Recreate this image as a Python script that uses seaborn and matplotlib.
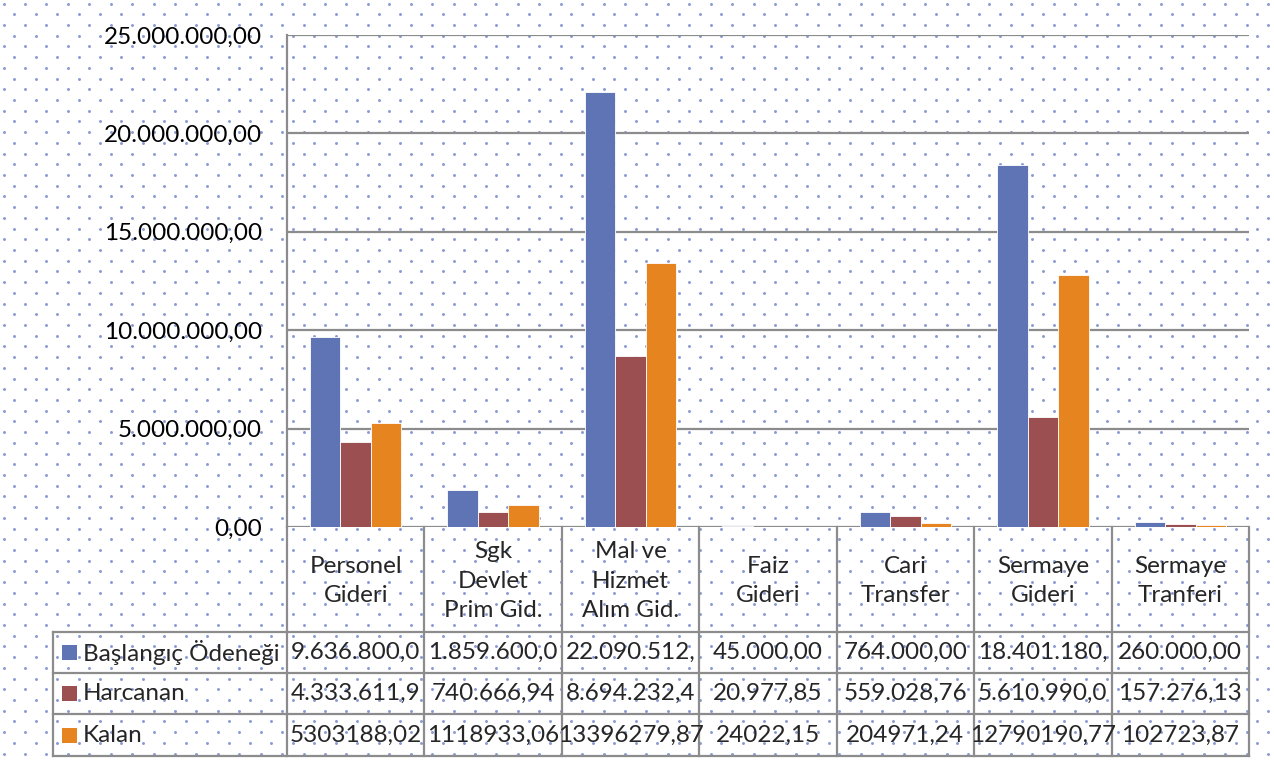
import matplotlib
matplotlib.use("Agg")
import matplotlib.pyplot as plt
import numpy as np
import pandas as pd
import seaborn as sns
from matplotlib.patches import Rectangle

# data (Turkish number format in the table)
categories = ["Personel\nGideri", "Sgk\nDevlet\nPrim Gid.", "Mal ve\nHizmet\nAlım Gid.",
              "Faiz\nGideri", "Cari\nTransfer", "Sermaye\nGideri", "Sermaye\nTranferi"]
series = ["Başlangıç Ödeneği", "Harcanan", "Kalan"]
baslangic = [9636800.00, 1859600.00, 22090512.29, 45000.00, 764000.00, 18401180.77, 260000.00]
harcanan = [4333611.98, 740666.94, 8694232.42, 20977.85, 559028.76, 5610990.00, 157276.13]
kalan = [5303188.02, 1118933.06, 13396279.87, 24022.15, 204971.24, 12790190.77, 102723.87]
yticks = [0, 5e6, 10e6, 15e6, 20e6, 25e6]

colors = ["#5f74b4", "#9b4f51", "#e6841f"]
grid_c = "#8c8c8c"
dot_c = "#7389cc"


def tr_fmt(v, sep=True):
    s = f"{v:,.2f}" if sep else f"{v:.2f}"
    return s.replace(",", "X").replace(".", ",").replace("X", ".")


df = pd.DataFrame({"Kategori": categories, series[0]: baslangic,
                   series[1]: harcanan, series[2]: kalan})
long = df.melt(id_vars="Kategori", var_name="Seri", value_name="Tutar")

sns.set_theme(style="white")
plt.rcParams["font.family"] = ["Lato", "DejaVu Sans"]
FS = 17.5

W, H = 1274, 763
fig = plt.figure(figsize=(W / 100, H / 100), dpi=100)


def box(l, t, r, b):
    return [l / W, 1 - b / H, (r - l) / W, (b - t) / H]


# dotted background pattern
bg = fig.add_axes([0, 0, 1, 1], zorder=0)
bg.set_xlim(0, W)
bg.set_ylim(H, 0)
bg.axis("off")
step = 21.43
rows = np.arange(-1, 73)
for j in rows:
    xs = 14.3 + step * np.arange(-1, 61) + (step / 2) * (j % 2)
    bg.scatter(xs, np.full_like(xs, 14.3 + j * step / 2), s=4.5, color=dot_c,
               linewidths=0, alpha=0.85)

# bar chart
ax = fig.add_axes(box(287, 35, 1249, 527), zorder=2)
ax.patch.set_alpha(0)
sns.barplot(data=long, x="Kategori", y="Tutar", hue="Seri", hue_order=series,
            palette=colors, saturation=1, width=0.666, edgecolor="white",
            linewidth=0.6, legend=False, ax=ax)
ax.set_xlim(-0.5, len(categories) - 0.5)
ax.set_ylim(0, 25e6)
ax.set_yticks(yticks)
ax.set_yticklabels([tr_fmt(v) for v in yticks], fontsize=FS, color="black")
ax.tick_params(axis="y", length=0, pad=18)
ax.tick_params(axis="x", length=0, labelbottom=False)
ax.set_xlabel("")
ax.set_ylabel("")
ax.set_axisbelow(True)
ax.yaxis.grid(True, color=grid_c, linewidth=1.6)
for s in ["top", "right", "bottom"]:
    ax.spines[s].set_visible(False)
ax.spines["left"].set_color(grid_c)
ax.spines["left"].set_linewidth(1.6)

# data table under the chart
tax = fig.add_axes(box(287, 527, 1249, 756), zorder=1)
tax.patch.set_alpha(0)
tax.axis("off")
tax.set_xlim(-0.5, len(categories) - 0.5)
tax.set_ylim(229, 0)
cell = 962 / len(categories)
x_left = -0.5 - 234 / cell
row_edges = [105, 146, 187, 229]
kw = dict(color=grid_c, linewidth=1.6, clip_on=False, solid_capstyle="projecting")

for i in range(len(categories) + 1):
    tax.plot([i - 0.5, i - 0.5], [0, 229], **kw)
tax.plot([x_left, x_left], [105, 229], **kw)
for y in row_edges:
    tax.plot([x_left, len(categories) - 0.5], [y, y], **kw)

for i, c in enumerate(categories):
    tax.text(i, 54, c, ha="center", va="center", fontsize=FS, linespacing=1.5,
             clip_on=False)

table_rows = [[tr_fmt(v)[:11] for v in baslangic],
              [tr_fmt(v)[:11] for v in harcanan],
              [tr_fmt(v, sep=False) for v in kalan]]
for r, (name, col, vals) in enumerate(zip(series, colors, table_rows)):
    yc = (row_edges[r] + row_edges[r + 1]) / 2
    tax.add_patch(Rectangle((x_left + 9 / cell, yc - 7.5), 15 / cell, 15,
                            facecolor=col, edgecolor="none", clip_on=False))
    tax.text(x_left + 30 / cell, yc, name, ha="left", va="center", fontsize=FS,
             clip_on=False)
    for i, t in enumerate(vals):
        tax.text(i, yc, t, ha="center", va="center", fontsize=FS, clip_on=False)

fig.savefig("out.png", dpi=100, facecolor="white")
